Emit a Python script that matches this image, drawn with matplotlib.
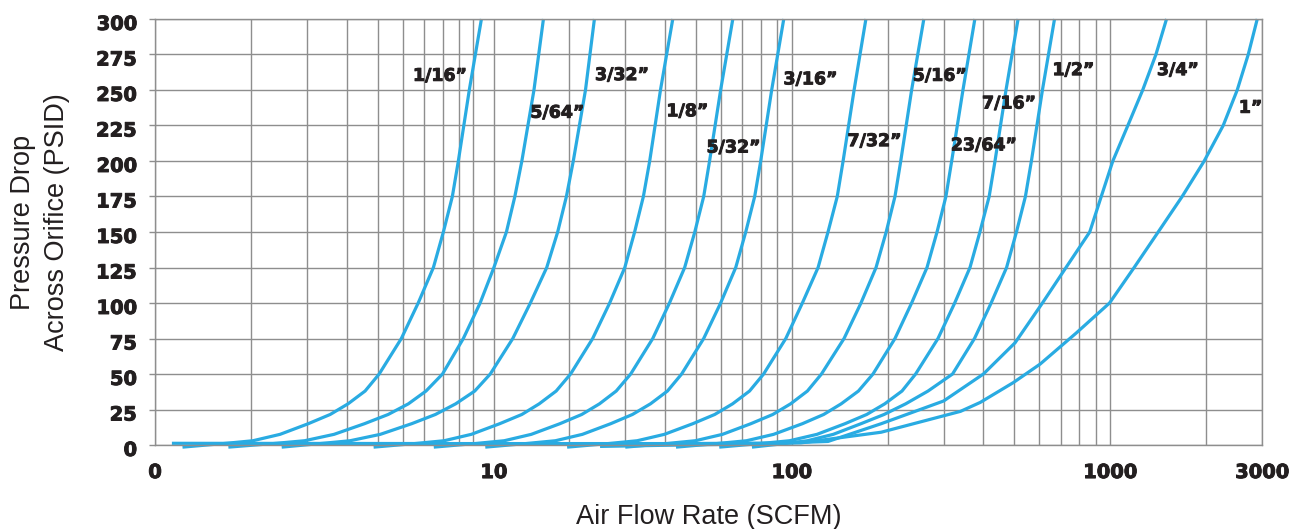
import matplotlib
matplotlib.use('Agg')
import matplotlib.pyplot as plt
import matplotlib.transforms as mtransforms
import matplotlib.patheffects as pe
from matplotlib.ticker import FixedLocator, NullFormatter

# pressure levels (PSID) shared by the orifice curves
psi = [-1.5, 1, 3, 7.5, 15, 21.5, 29, 38, 50, 75, 100, 125, 150, 175, 200, 250, 300]

# air flow (SCFM) at the psi levels above
flow_1_16 = [1.22, 1.64, 2.03, 2.47, 3.03, 3.55, 4.04, 4.57, 5.06, 5.94, 6.71, 7.49, 8.05, 8.59, 8.97, 9.71, 10.6]
flow_5_64 = [1.70, 2.35, 2.95, 3.65, 4.55, 5.4, 6.25, 7.1, 8.0, 9.3, 10.5, 11.6, 12.7, 13.5, 14.2, 15.5, 16.6]
flow_3_32 = [2.5, 3.3, 4.1, 5.1, 6.4, 7.6, 8.8, 10.1, 11.3, 13.3, 15.1, 17.0, 18.4, 19.6, 20.6, 22.5, 24.0]
flow_1_8 = [4.86, 6.54, 8.09, 9.85, 12.1, 14.2, 16.1, 18.2, 20.2, 23.7, 26.8, 29.9, 32.1, 34.2, 35.8, 38.7, 42.3]
flow_5_32 = [7.51, 10.1, 12.5, 15.2, 18.7, 21.9, 24.9, 28.1, 31.2, 36.6, 41.3, 46.1, 49.6, 52.9, 55.2, 59.8, 65.3]
flow_3_16 = [10.9, 14.6, 18.1, 22.0, 27.0, 31.6, 36.0, 40.7, 45.1, 52.9, 59.8, 66.7, 71.7, 76.5, 79.9, 86.5, 94.4]
flow_7_32 = [19.7, 26.5, 32.7, 39.8, 48.9, 57.3, 65.2, 73.7, 81.6, 95.8, 108, 121, 130, 139, 145, 157, 171]
flow_5_16 = [30.0, 40.3, 49.8, 60.6, 74.4, 87.2, 99.2, 112, 124, 146, 165, 184, 198, 211, 220, 238, 260]
flow_23_64 = [43.3, 58.2, 72.1, 87.7, 108, 126, 143, 162, 180, 211, 238, 266, 286, 305, 318, 345, 376]
flow_7_16 = [59.2, 79.5, 98.5, 120, 147, 172, 196, 222, 245, 288, 325, 363, 390, 417, 435, 471, 514]
flow_1_2 = [75, 95, 112, 135, 165, 195, 228, 268, 320, 375, 423, 473, 508, 542, 566, 613, 669]

# the two largest orifices have their own shape
flow_3_4 = [25, 45, 80, 130, 191, 300, 400, 503, 613, 727, 863, 938, 1020, 1137, 1266, 1393, 1504]
psi_3_4 = [-1, 0, 0.8, 2.5, 15, 31, 50, 72, 100, 125, 150, 175, 200, 225, 250, 275, 300]
flow_1 = [1.13, 10, 45, 107, 191, 339, 391, 497, 603, 784, 996, 1190, 1416, 1684, 1975, 2266, 2508, 2716, 2899]
psi_1 = [1.2, 1.0, 1.0, 1.5, 9, 23.7, 30, 44, 57, 79, 100, 125, 150, 175, 200, 225, 250, 275, 300]

orifice_labels = ['1/16”', '5/64”', '3/32”', '1/8”', '5/32”', '3/16”', '7/32”',
                  '5/16”', '23/64”', '7/16”', '1/2”', '3/4”', '1”']
label_flow = [6.46, 15.1, 24.1, 40.4, 54.0, 94.2, 149.7, 240, 316, 396, 659, 1403, 2537]
label_psi = [260, 234, 260.5, 235, 209.5, 257.5, 214, 260, 211, 240.5, 264, 264, 237.5]

x_tick_values = [1, 11.6, 100, 1000, 3000]
x_tick_labels = ['0', '10', '100', '1000', '3000']
x_grid_values = [2, 3, 4, 5, 6, 7, 8, 9, 10, 20, 30, 40, 50, 60, 70, 80, 90,
                 200, 300, 400, 500, 600, 700, 800, 900, 2000]
y_tick_values = list(range(0, 301, 25))

BLUE = '#29abe2'
GRID = '#8e8e8e'
INK = '#231f20'


def main():
    fig = plt.figure(figsize=(13.1, 5.29), dpi=100)
    ax = fig.add_axes([155 / 1310, 84 / 529, 1107 / 1310, 426 / 529])

    ax.set_xscale('log')
    ax.set_xlim(1, 3000)
    ax.set_ylim(0, 300)

    ax.xaxis.set_major_locator(FixedLocator(x_tick_values))
    ax.set_xticklabels(x_tick_labels)
    ax.xaxis.set_minor_locator(FixedLocator(x_grid_values))
    ax.xaxis.set_minor_formatter(NullFormatter())
    ax.set_yticks(y_tick_values)
    ax.set_yticklabels([str(v) for v in y_tick_values])

    ax.grid(True, which='both', color=GRID, linewidth=1.0)
    ax.set_axisbelow(True)
    for s in ax.spines.values():
        s.set_color(GRID)
        s.set_linewidth(1.0)

    # heavy face like the original's black-weight digits
    heavy = [pe.withStroke(linewidth=0.7, foreground=INK)]

    ax.tick_params(axis='x', which='both', length=0, pad=13)
    ax.tick_params(axis='y', length=4.5, width=1.0, color=GRID, pad=8.5)
    for lab in ax.get_xticklabels() + ax.get_yticklabels():
        lab.set_fontfamily('DejaVu Sans')
        lab.set_fontweight('bold')
        lab.set_fontsize(14)
        lab.set_color(INK)
        lab.set_path_effects(heavy)
    # y labels sit a little below their grid lines in the original
    shift = mtransforms.ScaledTranslation(0, -2.5 / 72, fig.dpi_scale_trans)
    for lab in ax.get_yticklabels():
        lab.set_transform(lab.get_transform() + shift)

    shared = [flow_1_16, flow_5_64, flow_3_32, flow_1_8, flow_5_32, flow_3_16,
              flow_7_32, flow_5_16, flow_23_64, flow_7_16, flow_1_2]
    for fl in shared:
        ax.plot(fl, psi, color=BLUE, lw=2.3, clip_on=False,
                solid_capstyle='butt', solid_joinstyle='round')
    ax.plot(flow_3_4, psi_3_4, color=BLUE, lw=2.3, clip_on=False,
            solid_capstyle='butt', solid_joinstyle='round')
    ax.plot(flow_1, psi_1, color=BLUE, lw=2.3, clip_on=False,
            solid_capstyle='butt', solid_joinstyle='round')

    for txt, fx, py in zip(orifice_labels, label_flow, label_psi):
        ax.text(fx, py, txt, ha='left', va='center', fontsize=12.5,
                fontweight='bold', family='DejaVu Sans', color=INK,
                path_effects=heavy)

    fig.text(40 / 1310, 1 - 222 / 529, 'Pressure Drop\nAcross Orifice (PSID)',
             rotation=90, ha='center', va='center', fontsize=19.5,
             family='Liberation Sans', linespacing=1.42, color=INK)
    fig.text(708.5 / 1310, 5 / 529, 'Air Flow Rate (SCFM)', ha='center',
             va='baseline', fontsize=19.5, family='Liberation Sans', color=INK)

    fig.savefig('out.png', dpi=100)


if __name__ == "__main__":
    main()
